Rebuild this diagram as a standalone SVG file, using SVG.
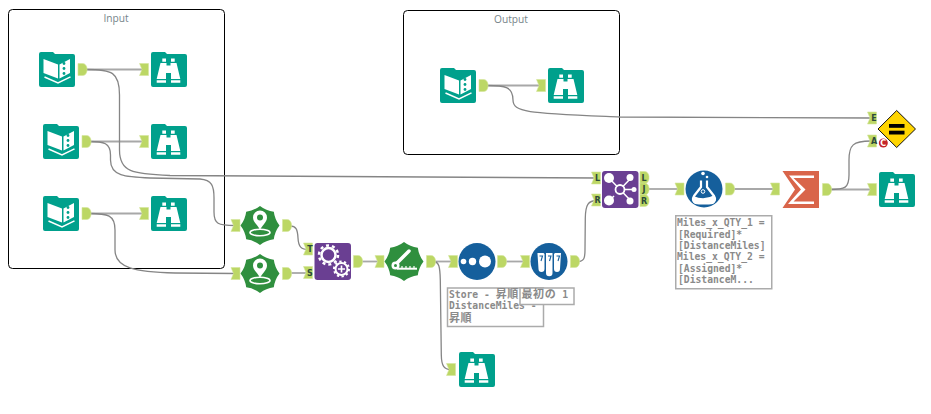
<svg xmlns="http://www.w3.org/2000/svg" width="931" height="414" viewBox="0 0 931 414">
  <style>
    .box { fill: #fff; stroke: #000; stroke-width: 1; }
    .title { font: 10.2px "Open Sans", "Liberation Sans", sans-serif; fill: #77858a; text-anchor: middle; }
    .wire { fill: none; stroke: #a8a8a8; stroke-width: 1.800; }
    .bend { fill: none; stroke: #858585; stroke-width: 1.300; }
    .anc { fill: #bcd765; stroke: #d5e59c; stroke-width: .6; }
    .letter { font: bold 8px "DejaVu Sans", sans-serif; fill: #2c4a3a; text-anchor: middle; }
    .note { fill: #fff; stroke: #ababab; stroke-width: 1.500; }
    .notetxt { font: bold 9.700px "DejaVu Sans Mono", "Noto Sans CJK JP", monospace; fill: #8a8a8a; white-space: pre; }
    .cjk { font: bold 11px "Noto Sans CJK JP", sans-serif; letter-spacing: .6px; }
    .teal { fill: #00a08c; }
    .green { fill: #2f8f3e; }
    .blue { fill: #155f9c; }
    .purple { fill: #6a3f92; }
  </style>
  <defs>
    <path id="out" class="anc" d="M-.5-.5h4.500q3.500 0 4.500 4.500v3q-1 4.500-4.500 4.500h-4.500z"/>
    <path id="in" class="anc" d="M-.5-.5h9v12h-9l2.500-6z"/>
    <path id="folder" class="teal" d="M2 0h12l2 2h18a2 2 0 0 1 2 2v29a2 2 0 0 1-2 2h-32a2 2 0 0 1-2-2v-31a2 2 0 0 1 2-2z"/>
    <g id="book">
      <use href="#folder"/>
      <path fill="#fff" d="M4.500 7L19 12.500V26.500L4.500 21zM20.500 12.500L31 7V21L20.500 26.500z"/>
      <path fill="none" stroke="#fff" stroke-width="1.500" d="M5.500 25L19 31L31.500 24.800"/>
      <circle class="teal" cx="25" cy="11.500" r="1.400"/>
      <circle class="teal" cx="25" cy="16.500" r="1.400"/>
      <circle class="teal" cx="25" cy="21.500" r="1.400"/>
    </g>
    <g id="browse">
      <use href="#folder"/>
      <path fill="#fff" d="M11.300 6.500H15V9.700H11.300zM20 6.500H23.700V9.700H20zM9.500 11H15.500V13.500H19.500V11H25.500L29.300 27H20V21H15V27H5.700z"/>
      <path fill="#fff" d="M5.700 28.300H15V30.800H5.700zM20 28.300H29.300V30.800H20z"/>
    </g>
    <path id="badge" class="green" d="M0-19.500Q6.120-14.780 13.800-13.800Q14.780-6.120 19.500 0Q14.780 6.120 13.800 13.800Q6.120 14.780 0 19.500Q-6.120 14.780-13.800 13.800Q-14.780 6.120-19.500 0Q-14.780-6.120-13.800-13.800Q-6.120-14.780 0-19.500z"/>
    <g id="pin">
      <use href="#badge"/>
      <path fill="#fff" d="M0 4.500C-2-0.500-7-3-7-8a7 7 0 0 1 14 0C7-3 2-0.500 0 4.500z"/>
      <circle class="green" cy="-8" r="3"/>
      <ellipse cy="7" rx="10" ry="3.300" fill="none" stroke="#fff" stroke-width="1.600"/>
    </g>
  </defs>

  <g id="input-container">
    <rect class="box" x="8.500" y="9.500" width="216" height="259" rx="4"/>
    <text class="title" x="116" y="22">Input</text>
  </g>
  <g id="output-container">
    <rect class="box" x="403.500" y="10.500" width="216" height="144" rx="4"/>
    <text class="title" x="511" y="23">Output</text>
  </g>

  <g id="connectors">
    <path class="wire" d="M86 69.500H143"/>
    <path class="wire" d="M89 141.500H143"/>
    <path class="wire" d="M89 213.500H143"/>
    <path class="wire" d="M486 85.500H540"/>
    <path class="bend" d="M86 69.500C112 69.500 119.500 72 119.500 95V150C119.500 172 132 174 170 175.500L596 178"/>
    <path class="bend" d="M89 141.500C104 141.500 110.500 143 110.500 155V160C110.500 176 125 177 150 178L200 179C212 180 214 186 214 198V212C214 224 218 225.500 235 225.500"/>
    <path class="bend" d="M89 213.500C108 213.500 115 215 115 230V250C115 268 135 272 175 273L235 273.500"/>
    <path class="bend" d="M486 85.500C506 85.500 513 87 513 100C513 113 530 113 620 117L872 118"/>
    <path class="bend" d="M290 226C296 226 297.500 229 298 238C298.500 247 301 249.500 309 249.500"/>
    <path class="wire" d="M290 273H306"/>
    <path class="wire" d="M361 261.500H378"/>
    <path class="wire" d="M434 261.500H451"/>
    <path class="bend" d="M434 261.500C439 262 440 267 440.300 280L441.300 355C441.500 366 444 369.500 451 369.500"/>
    <path class="wire" d="M505 261.500H523"/>
    <path class="bend" d="M578 261.500C584 261.500 585 258 585 250L585.300 218C585.500 205 588 200.500 597 200.500"/>
    <path class="wire" d="M649 189H678"/>
    <path class="wire" d="M733 189H774"/>
    <path class="wire" d="M830 189.500H871"/>
    <path class="bend" d="M830 189.500C845 189.500 849 188 849 175V160C849 145 853 141 871 141"/>
  </g>

  <g id="book-1"><use href="#book" x="39" y="52"/><use href="#out" x="78.500" y="64"/></g>
  <g id="browse-1"><use href="#in" x="140" y="64"/><use href="#browse" x="151" y="52"/></g>
  <g id="book-2"><use href="#book" x="43" y="124"/><use href="#out" x="82.500" y="136"/></g>
  <g id="browse-2"><use href="#in" x="140" y="136"/><use href="#browse" x="151" y="124"/></g>
  <g id="book-3"><use href="#book" x="43" y="196"/><use href="#out" x="82.500" y="208"/></g>
  <g id="browse-3"><use href="#in" x="140" y="208"/><use href="#browse" x="151" y="196"/></g>
  <g id="book-4"><use href="#book" x="440" y="68"/><use href="#out" x="479.500" y="80"/></g>
  <g id="browse-4"><use href="#in" x="537" y="80"/><use href="#browse" x="548" y="68"/></g>

  <g id="spatial-1"><use href="#in" x="231.500" y="220"/><use href="#pin" x="260" y="225.500"/><use href="#out" x="283" y="220"/></g>
  <g id="spatial-2"><use href="#in" x="231.500" y="268"/><use href="#pin" x="260" y="273.500"/><use href="#out" x="283" y="268"/></g>

  <g id="append">
    <use href="#in" x="304" y="243.500"/><text class="letter" x="310" y="252">T</text>
    <use href="#in" x="304" y="267"/><text class="letter" x="310" y="275.500">S</text>
    <rect class="purple" x="314.500" y="243" width="36.500" height="37" rx="3"/>
    <circle cx="328.500" cy="255" r="7" fill="none" stroke="#fff" stroke-width="2.500"/>
    <circle cx="328.500" cy="255" r="9.500" fill="none" stroke="#fff" stroke-width="2.500" stroke-dasharray="3 3"/>
    <circle cx="341.500" cy="269" r="6" fill="#6a3f92" stroke="#fff" stroke-width="2"/>
    <circle cx="341.500" cy="269" r="7.500" fill="none" stroke="#fff" stroke-width="2" stroke-dasharray="2.300 2.400"/>
    <path d="M338 269h7M341.500 265.500v7" stroke="#fff" stroke-width="1.600"/>
    <use href="#out" x="354" y="256"/>
  </g>

  <g id="multi-field">
    <use href="#in" x="375.500" y="256"/>
    <use href="#badge" x="404" y="261.500"/>
    <path d="M397 263L409 251" stroke="#fff" stroke-width="3.500" stroke-linecap="round"/>
    <circle cx="395.500" cy="265.500" r="4" fill="#fff"/>
    <circle class="green" cx="395.500" cy="265.500" r="1.500"/>
    <path d="M397 268.700H417" stroke="#fff" stroke-width="2"/>
    <path d="M402 266V268M406 266V268M410 266V268M414 266V268" stroke="#fff" stroke-width="1.200"/>
    <use href="#out" x="427" y="256"/>
  </g>

  <g id="sort">
    <use href="#in" x="449" y="256"/>
    <circle class="blue" cx="477" cy="261.500" r="18.500"/>
    <circle cx="463.500" cy="261.500" r="2.800" fill="#fff"/>
    <circle cx="472.500" cy="261.500" r="3.700" fill="#fff"/>
    <circle cx="485" cy="261.500" r="6" fill="#fff"/>
    <use href="#out" x="498" y="256"/>
  </g>

  <g id="sample">
    <use href="#in" x="521" y="256"/>
    <circle class="blue" cx="549" cy="261.500" r="18.500"/>
    <path fill="#fff" d="M537.500 253h6l1 1v15a3 3 0 0 1-6 0l-1-15zM546 253h6.500v20a3.250 3.250 0 0 1-6.500 0zM555 253h6l-1 16a3 3 0 0 1-6 0v-15z"/>
    <path d="M539.500 256h3l-1.500 5M548 256h3l-1.500 5M556.500 256h3l-1.500 5" fill="none" stroke="#155f9c" stroke-width="1.100"/>
    <use href="#out" x="571" y="256"/>
  </g>

  <g id="browse-5"><use href="#in" x="447" y="364"/><use href="#browse" x="459" y="352"/></g>

  <g id="join">
    <use href="#in" x="592" y="172.500"/><text class="letter" x="597.500" y="181">L</text>
    <use href="#in" x="592" y="194.500"/><text class="letter" x="597.500" y="203">R</text>
    <rect class="purple" x="602" y="171" width="36.500" height="37" rx="3"/>
    <path d="M608 177L632 202M632 177L620 189.500M608 202L614 196M620 189.500H634" stroke="#fff" stroke-width="1.500"/>
    <circle cx="620" cy="189.500" r="4.500" fill="#6a3f92" stroke="#fff" stroke-width="1.800"/>
    <circle cx="609" cy="178" r="5" fill="#fff"/>
    <circle cx="630" cy="177.500" r="3.500" fill="#fff"/>
    <circle cx="609" cy="200.500" r="5" fill="#fff"/>
    <circle cx="630" cy="201" r="3.500" fill="#fff"/>
    <circle cx="634" cy="189.500" r="2.500" fill="#fff"/>
    <use href="#out" x="640.500" y="172"/><text class="letter" x="644" y="180.500">L</text>
    <use href="#out" x="640.500" y="183.500"/><text class="letter" x="644" y="192">J</text>
    <use href="#out" x="640.500" y="195"/><text class="letter" x="644" y="203.500">R</text>
  </g>

  <g id="formula">
    <use href="#in" x="675.500" y="183.500"/>
    <circle class="blue" cx="704" cy="189" r="18.500"/>
    <circle cx="703" cy="173.500" r="1.800" fill="#fff"/>
    <circle cx="707" cy="177" r="1.300" fill="#fff"/>
    <path fill="none" stroke="#fff" stroke-width="2.200" d="M701 180.500V187L694 196C691.500 200 694 203 698 203H710C714 203 716.500 200 714 196L707 187V180.500"/>
    <path fill="#fff" d="M693.500 196Q704 201 714.500 195Q718 204.500 709 204.500H699Q690 204.500 693.500 196z"/>
    <circle cx="703" cy="191.500" r="1.800" fill="none" stroke="#fff" stroke-width="1"/>
    <use href="#out" x="726" y="183.500"/>
  </g>

  <g id="summarize">
    <use href="#in" x="771" y="183.500"/>
    <path fill="#d9654a" d="M782.500 171H819V208H782.500L795 189.500z"/>
    <path fill="#fff" d="M789 175.500H814V178H793.500L805.500 189.500L793.500 201.500H814V204H788L801 189.500z"/>
    <use href="#out" x="823" y="184"/>
  </g>

  <g id="browse-6"><use href="#in" x="868" y="184"/><use href="#browse" x="879" y="172"/></g>

  <g id="test">
    <use href="#in" x="868" y="112.500"/><text class="letter" x="874" y="121">E</text>
    <use href="#in" x="868" y="135.500"/><text class="letter" x="874" y="144">A</text>
    <path fill="#ffd500" stroke="#111" stroke-width="1" stroke-linejoin="round" d="M896.700 110.500L915.500 129L896.700 147.500L878 129z"/>
    <rect x="889" y="124" width="15.500" height="3.800" fill="#000"/>
    <rect x="889" y="130.700" width="15.500" height="3.800" fill="#000"/>
    <circle cx="883.300" cy="143" r="4.500" fill="#c4262b"/>
    <text x="883.300" y="146" font-family="DejaVu Sans, sans-serif" font-size="8" font-weight="bold" fill="#fff" text-anchor="middle">C</text>
  </g>

  <g id="sort-note">
    <rect class="note" x="447.500" y="288" width="96" height="38.500"/>
    <text class="notetxt" x="449" y="298">Store - <tspan class="cjk">昇順</tspan></text>
    <text class="notetxt" x="449" y="308.500">DistanceMiles -</text>
    <text class="notetxt" x="449" y="322"><tspan class="cjk">昇順</tspan></text>
  </g>
  <g id="sample-note">
    <rect class="note" x="520" y="288" width="54" height="16.500"/>
    <text class="notetxt" x="521.500" y="298"><tspan class="cjk">最初の</tspan> 1</text>
  </g>
  <g id="formula-note">
    <rect class="note" x="675.750" y="215.750" width="96" height="73"/>
    <text class="notetxt" x="677" y="226">Miles_x_QTY_1 =</text>
    <text class="notetxt" x="678" y="237.500">[Required]*</text>
    <text class="notetxt" x="678" y="248.500">[DistanceMiles]</text>
    <text class="notetxt" x="677" y="260">Miles_x_QTY_2 =</text>
    <text class="notetxt" x="678" y="271.500">[Assigned]*</text>
    <text class="notetxt" x="678" y="282.500">[DistanceM...</text>
  </g>
</svg>
